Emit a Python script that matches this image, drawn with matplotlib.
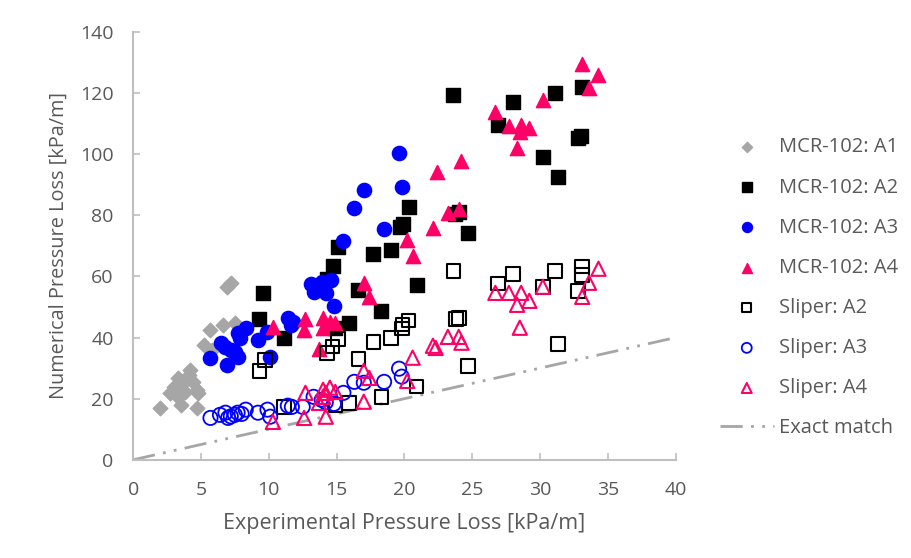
import matplotlib.pyplot as plt

plt.rcParams['font.family'] = ['Open Sans', 'DejaVu Sans']

# MCR-102 data (experimental, numerical) in kPa/m
mcr_a1_x = [7.2, 6.9, 5.7, 6.6, 7.5, 5.2, 5.8, 4.2, 3.3, 3.0, 3.7, 4.4, 4.7, 4.8, 2.7, 3.3, 2.0, 3.5, 4.7, 3.8, 4.1]
mcr_a1_y = [57.9, 56.6, 42.5, 44.2, 44.8, 37.6, 36.0, 29.4, 26.8, 23.9, 25.2, 25.5, 22.9, 21.9, 21.9, 20.6, 17.0, 18.0, 17.0, 22.2, 27.8]

mcr_a2_x = [9.3, 9.6, 11.1, 14.3, 14.7, 14.9, 15.1, 15.9, 16.6, 17.7, 18.3, 19.0, 19.7, 19.9, 20.3, 20.9,
            23.6, 23.7, 24.0, 24.7, 26.9, 28.0, 30.2, 31.1, 31.3, 32.8, 33.0, 33.1]
mcr_a2_y = [46.1, 54.6, 39.9, 59.2, 63.5, 43.2, 69.7, 44.8, 55.6, 67.4, 48.7, 68.7, 76.0, 77.2, 82.8, 57.2,
            119.4, 80.5, 81.0, 74.3, 109.6, 117.1, 99.1, 120.0, 92.6, 105.3, 106.0, 122.0]

mcr_a3_x = [5.7, 6.5, 6.8, 6.9, 7.2, 7.5, 7.7, 7.7, 7.9, 8.3, 9.2, 9.9, 10.1, 11.4, 11.6, 11.8,
            13.1, 13.3, 13.9, 14.2, 14.6, 14.8, 15.5, 16.3, 17.0, 18.5, 19.6, 19.8]
mcr_a3_y = [33.4, 38.3, 37.0, 31.1, 36.0, 35.3, 41.5, 33.7, 39.9, 43.2, 39.3, 41.9, 33.7, 46.4, 44.2, 45.1,
            57.6, 55.0, 58.2, 54.6, 58.9, 50.4, 71.6, 82.4, 88.3, 75.6, 100.4, 89.3]

mcr_a4_x = [10.3, 12.6, 12.7, 13.7, 14.0, 14.0, 14.2, 14.5, 14.9, 17.0, 17.4, 20.2, 20.6, 22.1,
            22.4, 23.2, 24.0, 24.2, 26.7, 27.7, 28.3, 28.5, 28.6, 29.2, 30.2, 33.1, 33.6, 34.3]
mcr_a4_y = [43.5, 42.5, 46.1, 36.3, 46.4, 43.2, 44.2, 45.1, 44.8, 57.9, 53.3, 72.0, 66.7, 75.9,
            94.2, 80.8, 82.1, 97.8, 113.8, 109.3, 102.1, 107.3, 109.6, 108.6, 117.8, 129.5, 121.7, 125.9]

# Sliper data
sl_a2_x = [9.3, 9.7, 11.1, 14.3, 14.7, 14.9, 15.1, 15.9, 16.6, 17.7, 18.3, 19.0, 19.8, 19.85,
           20.3, 20.9, 23.6, 23.8, 24.0, 24.7, 26.9, 28.0, 30.2, 31.1, 31.3, 32.8, 33.1, 33.1]
sl_a2_y = [29.1, 32.7, 17.3, 35.0, 37.0, 18.0, 39.6, 18.6, 33.0, 38.6, 20.6, 39.9, 42.9, 44.2,
           45.5, 23.9, 61.8, 46.1, 46.4, 30.7, 57.6, 60.8, 56.6, 61.8, 37.9, 55.3, 60.5, 63.2]

sl_a3_x = [5.7, 6.4, 6.8, 7.0, 7.2, 7.5, 7.7, 8.0, 8.3, 9.2, 9.9, 10.1, 11.4, 11.7, 12.5,
           13.3, 13.9, 14.2, 14.8, 15.5, 16.3, 17.0, 18.5, 19.6, 19.8]
sl_a3_y = [13.7, 14.7, 15.4, 13.7, 14.2, 14.7, 15.4, 15.0, 16.4, 15.4, 16.4, 14.1, 17.7, 17.3, 17.3,
           20.6, 19.6, 18.8, 18.3, 21.9, 25.5, 25.2, 25.5, 29.8, 27.2]

sl_a4_x = [10.3, 12.6, 12.7, 13.7, 14.0, 14.0, 14.2, 14.2, 14.5, 14.9, 17.0, 17.0, 17.4, 20.2, 20.6,
           22.1, 22.3, 23.2, 24.0, 24.2, 26.7, 27.7, 28.3, 28.5, 28.6, 29.2, 30.2, 33.1, 33.6, 34.3]
sl_a4_y = [12.4, 13.7, 21.9, 18.6, 22.9, 20.6, 14.1, 21.9, 23.6, 22.2, 29.1, 19.0, 26.8, 25.8, 33.4,
           37.3, 36.6, 40.2, 40.2, 38.3, 54.6, 54.6, 50.7, 43.2, 54.6, 52.0, 56.6, 53.3, 57.9, 62.5]

exact_x = [0, 40]
exact_y = [0, 40]

grey = '#a6a6a6'
pink = '#ff0066'
txt = '#595959'

fig = plt.figure(figsize=(9.12, 5.58), dpi=100)
ax = fig.add_axes([0.146, 0.176, 0.595, 0.767])

ax.scatter(mcr_a1_x, mcr_a1_y, marker='D', s=55, color=grey, label='MCR-102: A1', zorder=3)
ax.scatter(mcr_a2_x, mcr_a2_y, marker='s', s=95, color='black', label='MCR-102: A2', zorder=3)
ax.scatter(mcr_a3_x, mcr_a3_y, marker='o', s=105, color='#0000ff', label='MCR-102: A3', zorder=3)
ax.scatter(mcr_a4_x, mcr_a4_y, marker='^', s=105, color=pink, label='MCR-102: A4', zorder=3)
ax.scatter(sl_a2_x, sl_a2_y, marker='s', s=95, facecolors='none', edgecolors='black', linewidths=1.5,
           label='Sliper: A2', zorder=3)
ax.scatter(sl_a3_x, sl_a3_y, marker='o', s=105, facecolors='none', edgecolors='#0000ff', linewidths=1.3,
           label='Sliper: A3', zorder=3)
ax.scatter(sl_a4_x, sl_a4_y, marker='^', s=105, facecolors='none', edgecolors=pink, linewidths=1.5,
           label='Sliper: A4', zorder=3)
ax.plot(exact_x, exact_y, color=grey, lw=2, linestyle=(0, (8, 3, 1, 3, 1, 3)), label='Exact match', zorder=2)

ax.set_xlim(0, 40)
ax.set_ylim(0, 140)
ax.set_xticks(range(0, 41, 5))
ax.set_yticks(range(0, 141, 20))
for s in ['top', 'right']:
    ax.spines[s].set_visible(False)
for s in ['left', 'bottom']:
    ax.spines[s].set_color('#bfbfbf')
    ax.spines[s].set_linewidth(1.5)
ax.tick_params(axis='both', direction='in', colors='#bfbfbf', labelcolor=txt, labelsize=14,
               length=5, width=1.2)
ax.tick_params(axis='x', pad=15)
ax.tick_params(axis='y', pad=14)

ax.set_xlabel('Experimental Pressure Loss [kPa/m]', fontsize=15.5, color=txt, labelpad=10)
ax.set_ylabel('Numerical Pressure Loss [kPa/m]', fontsize=14.3, color=txt, labelpad=8)

leg = fig.legend(loc='center left', bbox_to_anchor=(0.789, 0.484), frameon=False, fontsize=14.5,
                 labelspacing=1.0, handlelength=2.7, handletextpad=0.25, borderpad=0, borderaxespad=0,
                 scatterpoints=1, markerscale=0.7)
for t in leg.get_texts():
    t.set_color(txt)

plt.savefig('out.png', dpi=100)
